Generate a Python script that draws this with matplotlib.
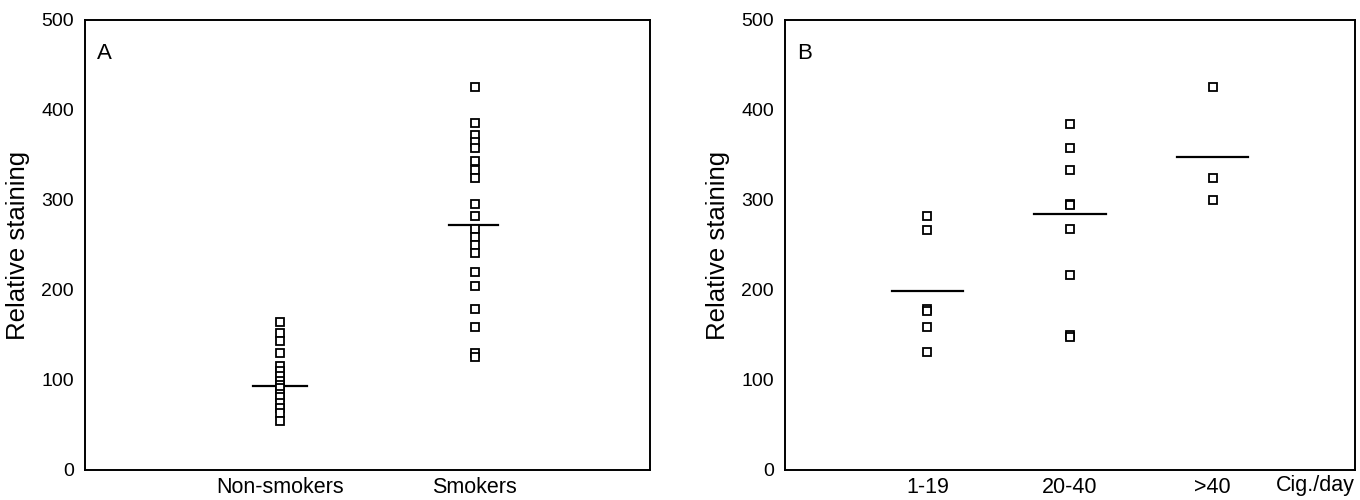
import matplotlib
matplotlib.use("Agg")
import matplotlib.pyplot as plt

plt.rcParams['font.family'] = ['Liberation Sans', 'DejaVu Sans']

# Panel A data
groups_a = ["Non-smokers", "Smokers"]
nonsmokers = [165, 152, 143, 130, 116, 110, 104, 99, 94, 91, 85, 81, 74, 69, 63, 54]
smokers = [426, 386, 372, 365, 358, 343, 333, 324, 296, 282, 268, 259, 250, 241,
           220, 204, 179, 159, 130, 126]
means_a = [93, 272]

# Panel B data
groups_b = ["1-19", "20-40", ">40"]
cig_1_19 = [282, 267, 179, 177, 159, 131]
cig_20_40 = [384, 358, 333, 296, 294, 268, 217, 150, 148]
cig_40p = [426, 325, 300]
means_b = [199, 284, 348]

yticks = [0, 100, 200, 300, 400, 500]

fig = plt.figure(figsize=(13.6, 5.0), dpi=100)
axA = fig.add_axes([85/1360, 30/500, 565/1360, 450/500])
axB = fig.add_axes([785/1360, 30/500, 570/1360, 450/500])

mk = dict(marker='s', markersize=6.2, markerfacecolor='white', markeredgecolor='black',
          markeredgewidth=1.3, linestyle='none')

def style(ax):
    ax.set_ylim(0, 500)
    ax.set_yticks(yticks)
    ax.set_yticklabels([str(t) for t in yticks], fontsize=14)
    ax.tick_params(axis='y', length=0, pad=8)
    ax.tick_params(axis='x', length=0, pad=5)
    for s in ax.spines.values():
        s.set_linewidth(1.4)
    ax.set_ylabel("Relative staining", fontsize=18.5, labelpad=8)

# Panel A
for i, vals in enumerate([nonsmokers, smokers]):
    axA.plot([i + 1] * len(vals), vals, **mk, zorder=3)
axA.plot([0.86, 1.14], [means_a[0]] * 2, color='black', lw=1.6, zorder=2)
axA.plot([1.87, 2.12], [means_a[1]] * 2, color='black', lw=1.6, zorder=2)
axA.set_xlim(0, 2.9)
axA.set_xticks([1, 2])
axA.set_xticklabels(groups_a, fontsize=15.5)
style(axA)
axA.text(0.022, 0.925, "A", transform=axA.transAxes, fontsize=16, ha='left', va='center')

# Panel B
for i, vals in enumerate([cig_1_19, cig_20_40, cig_40p]):
    axB.plot([i + 1] * len(vals), vals, **mk, zorder=3)
for i, m in enumerate(means_b):
    axB.plot([i + 1 - 0.25, i + 1 + 0.25], [m, m], color='black', lw=1.6, zorder=2)
axB.set_xlim(0, 4)
axB.set_xticks([1, 2, 3])
axB.set_xticklabels(groups_b, fontsize=15.5)
style(axB)
axB.text(0.022, 0.925, "B", transform=axB.transAxes, fontsize=16, ha='left', va='center')
axB.text(3.72, -0.012, "Cig./day", transform=axB.get_xaxis_transform(), fontsize=15.5,
         ha='center', va='top')

fig.savefig("out.png", dpi=100)
